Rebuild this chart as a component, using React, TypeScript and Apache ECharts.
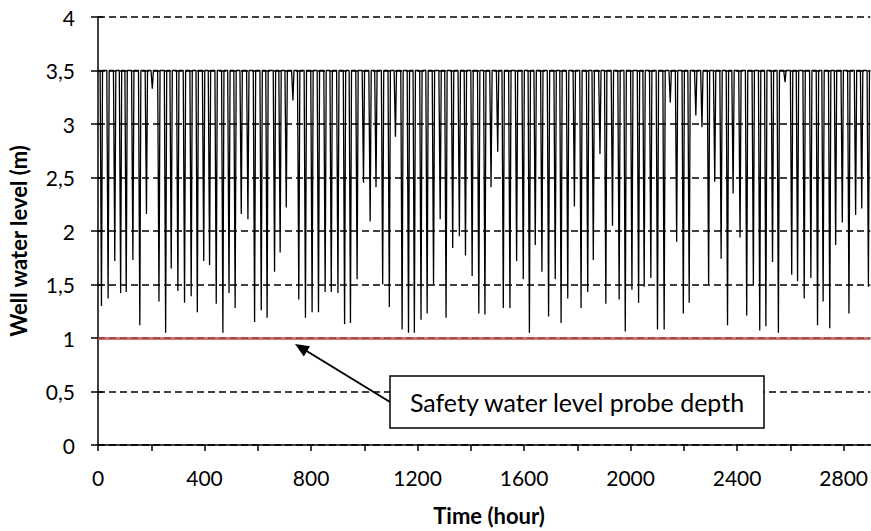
import React, { useEffect, useRef } from 'react';
import * as echarts from 'echarts';

// Hours at which each drawdown reaches its lowest level
const dipHours = [
  13, 38, 63, 85, 106, 131, 157, 182, 204, 229, 254, 275, 300, 325, 350, 373, 397, 419, 444, 469,
  492, 515, 538, 563, 588, 613, 635, 663, 684, 707,
  732, 754, 779, 804, 828, 853, 876, 901, 926, 948, 973, 997, 1022, 1044, 1069, 1094, 1117, 1142,
  1166, 1188, 1213, 1236, 1260, 1285, 1307, 1332, 1357, 1380, 1405,
  1430, 1453, 1476, 1501, 1522, 1547, 1572, 1597, 1620, 1642, 1667, 1692, 1717, 1739, 1764, 1789,
  1814, 1839, 1860, 1885, 1907, 1932, 1957, 1980, 2005, 2030, 2051, 2076, 2101, 2126,
  2149, 2173, 2198, 2220, 2245, 2268, 2293, 2316, 2340, 2364, 2385, 2411, 2436, 2461, 2485, 2508,
  2533, 2555, 2580, 2605, 2627, 2652, 2677, 2702, 2723, 2748, 2770, 2795, 2820, 2845, 2868, 2893,
];

// Lowest well water level (m) reached in each drawdown
const dipLevels = [
  1.3, 1.37, 1.72, 1.42, 1.43, 1.73, 1.12, 2.16, 3.33, 1.34, 1.05, 1.65, 1.44, 1.33, 1.39, 1.24, 1.72, 1.68, 1.32, 1.05,
  1.42, 1.28, 2.16, 2.11, 1.15, 1.26, 1.19, 1.62, 1.8, 2.22,
  3.22, 1.36, 1.19, 1.24, 1.24, 1.43, 1.43, 1.42, 1.13, 1.14, 1.55, 2.45, 2.09, 2.41, 1.5, 1.29, 2.88, 1.08,
  1.05, 1.05, 1.17, 1.23, 1.5, 2.11, 1.19, 1.84, 1.95, 1.77, 1.58,
  1.23, 1.22, 2.41, 2.74, 1.28, 1.28, 1.72, 1.55, 1.05, 1.87, 1.62, 1.2, 1.55, 1.14, 1.37, 2.23,
  1.28, 1.43, 1.73, 2.72, 1.32, 2.05, 1.36, 1.06, 1.45, 1.33, 1.48, 1.56, 1.08, 1.08,
  3.2, 1.9, 1.23, 1.33, 3.08, 2.97, 1.5, 2.46, 1.74, 1.12, 2.35, 1.94, 1.21, 1.5, 1.07, 1.11,
  1.71, 1.05, 3.39, 1.59, 1.53, 1.37, 1.56, 1.12, 1.34, 1.09, 1.87, 2.08, 1.23, 2.15, 2.21, 1.48,
];

const fullLevel = 3.5; // pump-off level (m)
const safetyLevel = 1; // safety probe depth (m)
const drawdownHours = 5;
const recoveryHours = 4;
const timeMin = 0;
const timeMax = 2900;
const timeTickStep = 200;
const timeLabelStep = 400;
const levelMin = 0;
const levelMax = 4;
const levelStep = 0.5;

const FONT = 'Lato, "Noto Sans", sans-serif';

function buildSeries(): [number, number][] {
  const pts: [number, number][] = [[timeMin, fullLevel]];
  dipHours.forEach((t, i) => {
    pts.push([t - drawdownHours, fullLevel]);
    pts.push([t, dipLevels[i]]);
    pts.push([t + recoveryHours, fullLevel]);
  });
  pts.push([timeMax, fullLevel]);
  return pts;
}

export default function App() {
  const ref = useRef<HTMLDivElement>(null);
  useEffect(() => {
    if (!ref.current) return;
    const chart = echarts.init(ref.current, undefined, { renderer: 'svg' });
    const yBase = {
      type: 'value' as const,
      min: levelMin,
      max: levelMax,
      interval: levelStep,
    };
    chart.setOption({
      animation: false,
      grid: { left: 98, right: 0, top: 17, bottom: 86 },
      xAxis: {
        type: 'value',
        min: timeMin,
        max: timeMax,
        interval: timeTickStep,
        axisLine: { show: true, onZero: false, lineStyle: { color: '#000', width: 1.5 } },
        axisTick: { show: true, length: 6, lineStyle: { color: '#000', width: 1.5 } },
        axisLabel: {
          color: '#000',
          fontFamily: FONT,
          fontSize: 21,
          margin: 22,
          showMaxLabel: false,
          formatter: (v: number) => (v % timeLabelStep === 0 ? String(v) : ''),
        },
        splitLine: { show: false },
      },
      yAxis: [
        {
          ...yBase,
          axisLine: { show: true, onZero: false, lineStyle: { color: '#000', width: 1.5 } },
          axisTick: { show: true, length: 7, lineStyle: { color: '#000', width: 1.5 } },
          axisLabel: {
            color: '#000',
            fontFamily: FONT,
            fontSize: 21,
            margin: 23,
            formatter: (v: number) => String(v).replace('.', ','),
          },
          splitLine: { show: true, lineStyle: { color: '#000', width: 1.5, type: [7, 4] } },
        },
        {
          ...yBase,
          position: 'left',
          axisLine: { show: false },
          axisTick: { show: true, inside: true, length: 5, lineStyle: { color: '#000', width: 1.5 } },
          axisLabel: { show: false },
          splitLine: { show: false },
        },
      ],
      series: [
        {
          type: 'line',
          data: buildSeries(),
          showSymbol: false,
          symbol: 'none',
          lineStyle: { color: '#000', width: 1.3 },
          markLine: {
            silent: true,
            symbol: 'none',
            label: { show: false },
            lineStyle: { color: '#c0504d', width: 3, type: 'solid', opacity: 0.8 },
            data: [{ yAxis: safetyLevel }],
          },
        },
      ],
      graphic: [
        {
          type: 'text',
          x: 18,
          y: 241,
          rotation: Math.PI / 2,
          style: {
            text: 'Well water level (m)',
            fontFamily: FONT,
            fontWeight: 'bold',
            fontSize: 22,
            fill: '#000',
            textAlign: 'center',
            textVerticalAlign: 'middle',
          },
        },
        {
          type: 'text',
          x: 489,
          y: 515,
          style: {
            text: 'Time (hour)',
            fontFamily: FONT,
            fontWeight: 'bold',
            fontSize: 22,
            fill: '#000',
            textAlign: 'center',
            textVerticalAlign: 'middle',
          },
        },
        {
          type: 'line',
          shape: { x1: 390, y1: 402, x2: 305, y2: 350 },
          style: { stroke: '#000', lineWidth: 2 },
          z: 100,
        },
        {
          type: 'polygon',
          shape: { points: [[295, 344], [303.8, 356.4], [310, 346.2]] },
          style: { fill: '#000' },
          z: 100,
        },
        {
          type: 'rect',
          shape: { x: 390, y: 376, width: 374, height: 52 },
          style: { fill: '#fff', stroke: '#000', lineWidth: 1.5 },
          z: 100,
        },
        {
          type: 'text',
          x: 577,
          y: 402,
          z: 101,
          style: {
            text: 'Safety water level probe depth',
            fontFamily: FONT,
            fontSize: 25,
            fill: '#000',
            textAlign: 'center',
            textVerticalAlign: 'middle',
          },
        },
      ],
    });
    return () => chart.dispose();
  }, []);
  return (
    <div
      ref={ref}
      style={{ position: 'fixed', left: 0, top: 0, width: 871, height: 531, background: '#fff' }}
    />
  );
}
